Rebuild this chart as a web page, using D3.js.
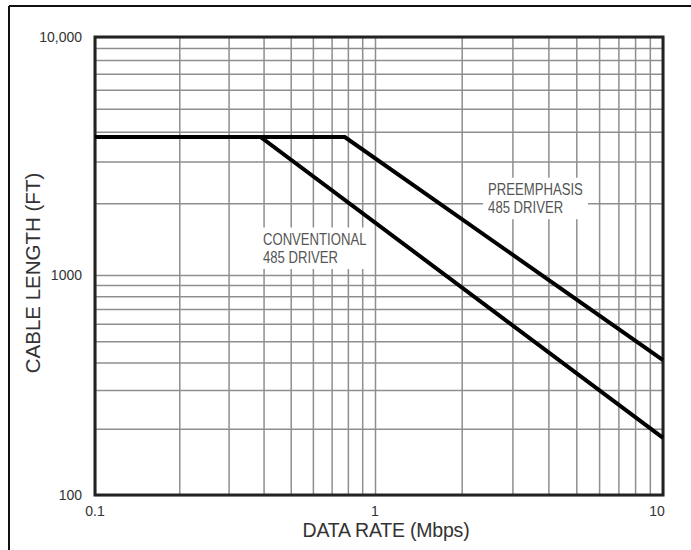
<!DOCTYPE html>
<html>
<head>
<meta charset="utf-8">
<script src="https://cdn.jsdelivr.net/npm/d3@7"></script>
<style>
  html, body { margin: 0; padding: 0; background: #fff; }
  svg { display: block; }
</style>
</head>
<body>
<svg id="chart" width="691" height="550"></svg>
<script>
// ---- data ----
const conventionalRate   = [0.1, 0.39, 10];
const conventionalLength = [3800, 3800, 182];
const preemphasisRate    = [0.1, 0.78, 10];
const preemphasisLength  = [3800, 3800, 410];
const xTickLabels = ["0.1", "1", "10"];
const xTickValues = [0.1, 1, 10];
const yTickLabels = ["100", "1000", "10,000"];
const yTickValues = [100, 1000, 10000];
const labelTexts = [["CONVENTIONAL", "485 DRIVER"], ["PREEMPHASIS", "485 DRIVER"]];
const labelRate = [0.398, 2.47];
const labelLength = [1340, 2170];
const xTitle = "DATA RATE (Mbps)";
const yTitle = "CABLE LENGTH (FT)";

// ---- scales ----
const x = d3.scaleLog().domain([0.1, 1, 10]).range([95, 375, 663]);
const y = d3.scaleLog().domain([100, 1000, 10000]).range([495, 275, 37]);
const pLeft = x(0.1), pRight = x(10), pTop = y(10000), pBottom = y(100);

const svg = d3.select("#chart");

// outer frame (top & left visible)
svg.append("line").attr("x1", 9).attr("x2", 700).attr("y1", 6).attr("y2", 6)
  .attr("stroke", "#111").attr("stroke-width", 2);
svg.append("line").attr("x1", 9).attr("x2", 9).attr("y1", 6).attr("y2", 560)
  .attr("stroke", "#111").attr("stroke-width", 2);

// gridlines via axes
const gridColor = "#8e8e8e";
const gx = svg.append("g").attr("transform", `translate(0,${pBottom})`)
  .call(d3.axisBottom(x).ticks(20).tickSize(-(pBottom - pTop)).tickFormat(""));
const gy = svg.append("g").attr("transform", `translate(${pLeft},0)`)
  .call(d3.axisLeft(y).ticks(20).tickSize(-(pRight - pLeft)).tickFormat(""));
[gx, gy].forEach(g => {
  g.select(".domain").remove();
  g.selectAll(".tick line").attr("stroke", gridColor).attr("stroke-width", 1.5);
});

// annotation labels with white background (condensed type)
const fontMain = "'Liberation Sans', Arial, Helvetica, sans-serif";
labelTexts.forEach((lines, i) => {
  const g = svg.append("g");
  const bg = g.append("rect").attr("fill", "#fff");
  const inner = g.append("g")
    .attr("transform", `translate(${x(labelRate[i])},${y(labelLength[i])}) scale(0.82,1)`);
  const t = inner.append("text")
    .attr("font-family", fontMain).attr("font-size", 16).attr("fill", "#555");
  lines.forEach((s, j) => {
    t.append("tspan").attr("x", 0).attr("y", j * 18).text(s);
  });
  const bb = t.node().getBBox();
  const x0 = x(labelRate[i]) + bb.x * 0.82, y0 = y(labelLength[i]) + bb.y;
  bg.attr("x", x0 - 5).attr("y", y0 - 3).attr("width", bb.width * 0.82 + 10).attr("height", bb.height + 6);
});

// plot border
svg.append("rect").attr("x", pLeft).attr("y", pTop)
  .attr("width", pRight - pLeft).attr("height", pBottom - pTop)
  .attr("fill", "none").attr("stroke", "#222").attr("stroke-width", 3);

// data lines
const line = d3.line().x(d => x(d[0])).y(d => y(d[1]));
[[conventionalRate, conventionalLength], [preemphasisRate, preemphasisLength]].forEach(([r, l]) => {
  svg.append("path").datum(r.map((v, i) => [v, l[i]]))
    .attr("d", line).attr("fill", "none").attr("stroke", "#000")
    .attr("stroke-width", 4).attr("stroke-linejoin", "miter");
});

// tick labels
svg.append("g").selectAll("text").data(xTickValues).join("text")
  .attr("x", d => x(d) - (d === 10 ? 6 : 0)).attr("y", pBottom + 21)
  .attr("text-anchor", "middle")
  .attr("font-family", fontMain).attr("font-size", 14).attr("fill", "#333")
  .text((d, i) => xTickLabels[i]);
svg.append("g").selectAll("text").data(yTickValues).join("text")
  .attr("x", pLeft - 13).attr("y", d => y(d) + 5)
  .attr("text-anchor", "end")
  .attr("font-family", fontMain).attr("font-size", 14).attr("fill", "#333")
  .text((d, i) => yTickLabels[i]);

// axis titles
svg.append("text").attr("x", 386).attr("y", 537)
  .attr("text-anchor", "middle").attr("font-family", fontMain)
  .attr("font-size", 19.5).attr("letter-spacing", -0.2).attr("fill", "#333").text(xTitle);
svg.append("text").attr("transform", `translate(40,273) rotate(-90)`)
  .attr("text-anchor", "middle").attr("font-family", fontMain)
  .attr("font-size", 20.5).attr("fill", "#333").text(yTitle);
</script>
</body>
</html>
